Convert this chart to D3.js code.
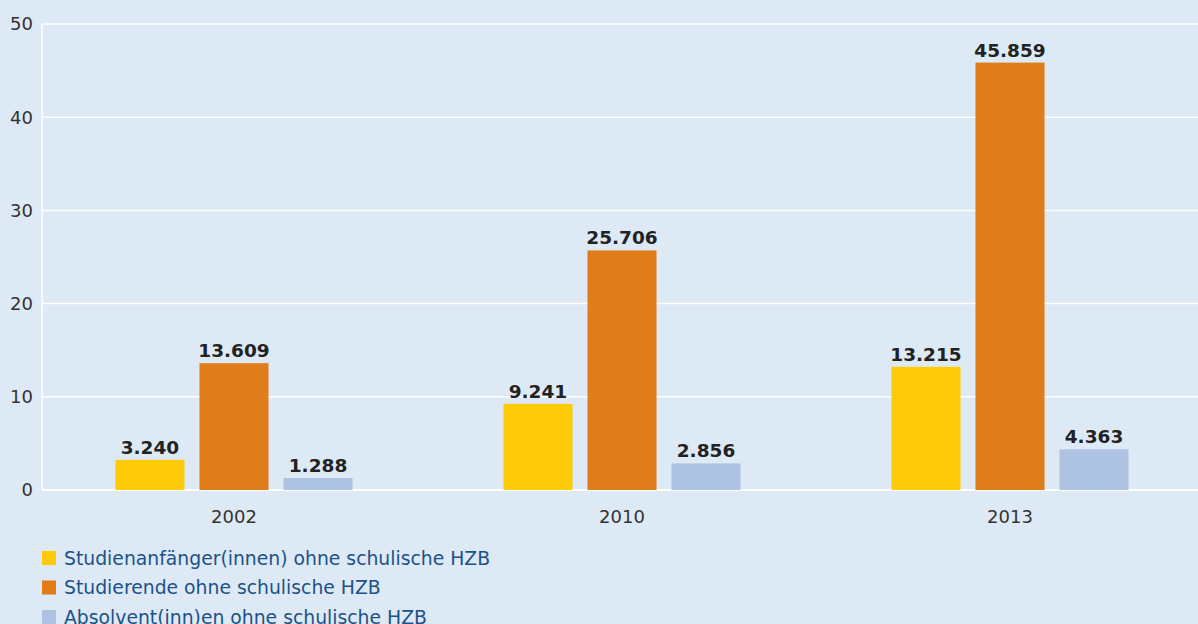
<!DOCTYPE html>
<html>
<head>
<meta charset="utf-8">
<script src="https://cdn.jsdelivr.net/npm/d3@7"></script>
<style>
  body { margin: 0; background: #dde9f5; }
  svg { display: block; font-family: "DejaVu Sans", Verdana, sans-serif; }
</style>
</head>
<body>
<svg id="chart" width="1198" height="624"></svg>
<script>
// values in thousands
var years = ['2002', '2010', '2013'];
var seriesNames = [
  'Studienanfänger(innen) ohne schulische HZB',
  'Studierende ohne schulische HZB',
  'Absolvent(inn)en ohne schulische HZB'
];
var anfaenger = [3.240, 9.241, 13.215];
var studierende = [13.609, 25.706, 45.859];
var absolventen = [1.288, 2.856, 4.363];
var yTicks = [0, 10, 20, 30, 40, 50];

var colors = ['#ffca08', '#e07d1b', '#adc3e1'];
var series = [anfaenger, studierende, absolventen];

var svg = d3.select('#chart');
var margin = { left: 42, right: 0, top: 24, bottom: 134 };
var width = 1198 - margin.left - margin.right;
var height = 624 - margin.top - margin.bottom;

var g = svg.append('g')
  .attr('transform', 'translate(' + margin.left + ',' + margin.top + ')');

var x0 = d3.scaleBand().domain(years).range([-2, 1162]).padding(0);
var x1 = d3.scaleBand().domain(d3.range(series.length))
  .range([0, 237]).paddingInner(0.1786);
var y = d3.scaleLinear().domain([0, 50]).range([height, 0]);

// grid lines
g.append('g').selectAll('line')
  .data(yTicks)
  .enter().append('line')
  .attr('x1', 0).attr('x2', width)
  .attr('y1', function(d) { return y(d); })
  .attr('y2', function(d) { return y(d); })
  .attr('stroke', '#fff')
  .attr('stroke-width', function(d) { return d === 0 ? 2 : 1.5; });

g.append('line')
  .attr('x1', 0).attr('x2', 0)
  .attr('y1', y(50)).attr('y2', y(0))
  .attr('stroke', '#fff').attr('stroke-width', 1.5);

// y labels
g.append('g').selectAll('text')
  .data(yTicks)
  .enter().append('text')
  .attr('x', -9)
  .attr('y', function(d) { return y(d); })
  .attr('dy', '0.35em')
  .attr('text-anchor', 'end')
  .attr('font-size', 18)
  .attr('fill', '#333')
  .text(function(d) { return d; });

// bars
var groups = g.selectAll('.year')
  .data(years)
  .enter().append('g')
  .attr('class', 'year')
  .attr('transform', function(d) {
    return 'translate(' + (x0(d) + (x0.bandwidth() - x1.range()[1]) / 2) + ',0)';
  });

var fmt = d3.format('.3f');

groups.each(function(year, yi) {
  var sel = d3.select(this);
  series.forEach(function(vals, si) {
    var v = vals[yi];
    sel.append('rect')
      .attr('x', x1(si))
      .attr('y', y(v))
      .attr('width', x1.bandwidth())
      .attr('height', y(0) - y(v))
      .attr('fill', colors[si]);
    sel.append('text')
      .attr('x', x1(si) + x1.bandwidth() / 2)
      .attr('y', y(v) - 6)
      .attr('text-anchor', 'middle')
      .attr('font-size', 18.5)
      .attr('font-weight', 'bold')
      .attr('fill', '#222')
      .text(fmt(v));
  });
});

// x labels
g.append('g').selectAll('text')
  .data(years)
  .enter().append('text')
  .attr('x', function(d) { return x0(d) + x0.bandwidth() / 2; })
  .attr('y', height + 27)
  .attr('dy', '0.35em')
  .attr('text-anchor', 'middle')
  .attr('font-size', 18)
  .attr('fill', '#333')
  .text(function(d) { return d; });

// legend
var legend = svg.append('g').selectAll('g')
  .data(seriesNames)
  .enter().append('g')
  .attr('transform', function(d, i) { return 'translate(42,' + (558 + i * 29.5) + ')'; });

legend.append('rect')
  .attr('x', 0).attr('y', -7)
  .attr('width', 14).attr('height', 14)
  .attr('fill', function(d, i) { return colors[i]; });

legend.append('text')
  .attr('x', 22)
  .attr('dy', '0.35em')
  .attr('font-size', 18.8)
  .attr('fill', '#1c5289')
  .text(function(d) { return d; });
</script>
</body>
</html>
